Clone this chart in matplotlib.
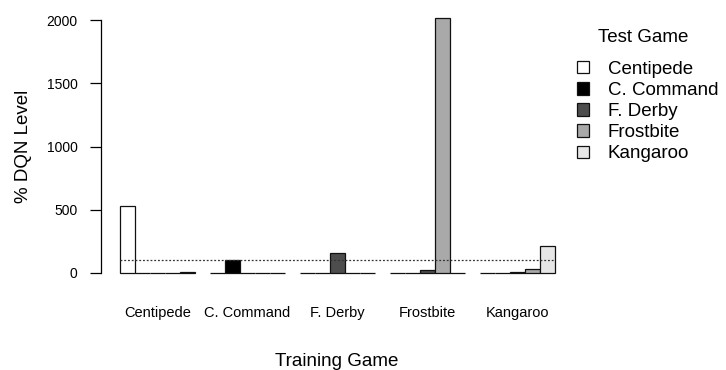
import numpy as np
import matplotlib.pyplot as plt
from matplotlib.patches import Patch

plt.rcParams['font.family'] = ['Liberation Sans', 'DejaVu Sans']

train_games = ['Centipede', 'C. Command', 'F. Derby', 'Frostbite', 'Kangaroo']
test_games = ['Centipede', 'C. Command', 'F. Derby', 'Frostbite', 'Kangaroo']

# % DQN level per test game, across training games
centipede = [530, 0, 0, 2, 0]
c_command = [0, 105, 0, 0, 0]
f_derby = [0, 0, 155, 22, 6]
frostbite = [3, 0, 0, 2015, 28]
kangaroo = [4, 0, 0, 0, 215]
series = [centipede, c_command, f_derby, frostbite, kangaroo]

colors = ['#ffffff', '#000000', '#4d4d4d', '#a9a9a9', '#e6e6e6']

W, H = 726, 370
fig = plt.figure(figsize=(W / 100, H / 100), dpi=100)
# axes placed in pixel coords: x 101..560, y 20 (2000) .. 273 (0)
ax = fig.add_axes([101 / W, (H - 273) / H, 459 / W, 253 / H])

ax.set_xlim((101 - 120) / 15, (560 - 120) / 15)
ax.set_ylim(0, 2000)

groups = np.arange(len(train_games)) * 6
for i, vals in enumerate(series):
    ax.bar(groups + i, vals, width=1, align='edge', color=colors[i],
           edgecolor='#111111', linewidth=0.9, clip_on=False, zorder=2)

ax.hlines(100, groups[0], groups[-1] + 5, colors='#333333', linestyles=(0, (1.5, 1.5)),
          linewidth=0.9, zorder=3)

for s in ['top', 'right', 'bottom']:
    ax.spines[s].set_visible(False)
ax.spines['left'].set_linewidth(0.9)
ax.set_yticks([0, 500, 1000, 1500, 2000])
ax.tick_params(axis='y', length=8, width=0.9, labelsize=10, pad=9)
ax.set_xticks(groups + 2.5)
ax.set_xticklabels(train_games)
ax.tick_params(axis='x', length=0, labelsize=10.5, pad=24)
ax.set_ylabel('% DQN Level', fontsize=13.5, labelpad=10)
ax.set_xlabel('Training Game', fontsize=13.5)
ax.xaxis.set_label_coords((337 - 101) / 459, (273 - 353) / 253)

fig.text(643 / W, 1 - 38 / H, 'Test Game', fontsize=13.5, ha='center', va='center')
handles = [Patch(facecolor=c, edgecolor='#111111', linewidth=0.9) for c in colors]
leg = fig.legend(handles, test_games, loc='upper left',
                 bbox_to_anchor=(560 / W, 1 - 44 / H), frameon=False,
                 fontsize=13.5, handlelength=0.64, handleheight=0.64,
                 handletextpad=1.0, labelspacing=0.22)

fig.savefig('out.png', dpi=100)
